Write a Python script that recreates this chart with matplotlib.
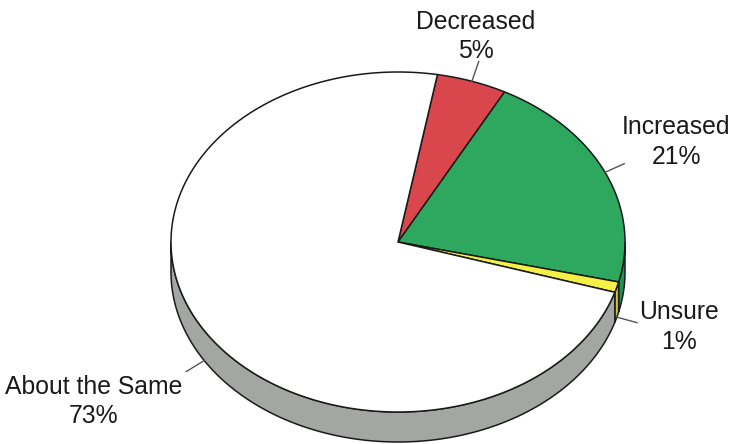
import numpy as np
import matplotlib
matplotlib.use("Agg")
import matplotlib.pyplot as plt
from matplotlib.patches import Polygon

plt.rcParams['font.family'] = ['Liberation Sans', 'DejaVu Sans']

# survey answers, drawn clockwise from the top
labels = ["Decreased", "Increased", "Unsure", "About the Same"]
percents = [5, 21, 1, 73]
top_colors = ["#d9464b", "#2ea85e", "#f4f046", "#ffffff"]
side_colors = ["#a8343a", "#23924f", "#cfc63a", "#a4a6a3"]

# label placement relative to the end of each leader line (pixels)
label_offsets = [(-3, 2, 'center', 'bottom'),
                 (-2, 5, 'left', 'bottom'),
                 (2, 4, 'left', 'center'),
                 (-4, 3, 'right', 'top')]

# pie geometry in pixel space
cx, cy = 398, 242
rx, ry = 227, 170
depth = 30
start_angle = 80.0
leader_len = 21

fig = plt.figure(figsize=(7.35, 4.44), dpi=100)
ax = fig.add_axes([0, 0, 1, 1])
ax.set_xlim(0, 735)
ax.set_ylim(444, 0)
ax.axis('off')


def rim(theta_deg, dz=0.0):
    t = np.radians(theta_deg)
    return cx + rx * np.cos(t), cy - ry * np.sin(t) + dz


def front_part(t0, t1):
    # pieces of the arc [t1, t0] that face the viewer (sin < 0)
    segs = []
    for k in (-1, 0, 1):
        lo, hi = -180 + 360 * k, 360 * k
        a, b = max(t1, lo), min(t0, hi)
        if b > a:
            segs.append((b, a))
    return segs


bounds = start_angle - 3.6 * np.concatenate([[0], np.cumsum(percents)])
wedges = list(zip(bounds[:-1], bounds[1:]))

# side walls first
for (t0, t1), col in zip(wedges, side_colors):
    for b, a in front_part(t0, t1):
        th = np.linspace(b, a, 120)
        xs, ys = rim(th)
        xb, yb = rim(th[::-1], depth)
        pts = np.column_stack([np.concatenate([xs, xb]), np.concatenate([ys, yb])])
        ax.add_patch(Polygon(pts, closed=True, facecolor=col, edgecolor='#1a1a1a', lw=1.1))

# top faces
for (t0, t1), col in zip(wedges, top_colors):
    th = np.linspace(t0, t1, 200)
    xs, ys = rim(th)
    pts = np.column_stack([np.concatenate([[cx], xs]), np.concatenate([[cy], ys])])
    ax.add_patch(Polygon(pts, closed=True, facecolor=col, edgecolor='#1a1a1a', lw=1.1,
                         joinstyle='miter'))

# leader lines and labels
for (t0, t1), name, pct, off in zip(wedges, labels, percents, label_offsets):
    mid = (t0 + t1) / 2
    dz = depth if np.sin(np.radians(mid)) < 0 else 0
    x0, y0 = rim(mid, dz)
    ux, uy = np.cos(np.radians(mid)), -np.sin(np.radians(mid))
    x1, y1 = x0 + leader_len * ux, y0 + leader_len * uy
    ax.plot([x0, x1], [y0, y1], color='#555555', lw=1.0)
    dx, dy, ha, va = off
    ax.text(x1 + dx, y1 + dy, f"{name}\n{pct}%", ha=ha, va=va, multialignment='center',
            fontsize=17.8, color='#1a1a1a', linespacing=1.3)

fig.savefig("out.png", dpi=100)
